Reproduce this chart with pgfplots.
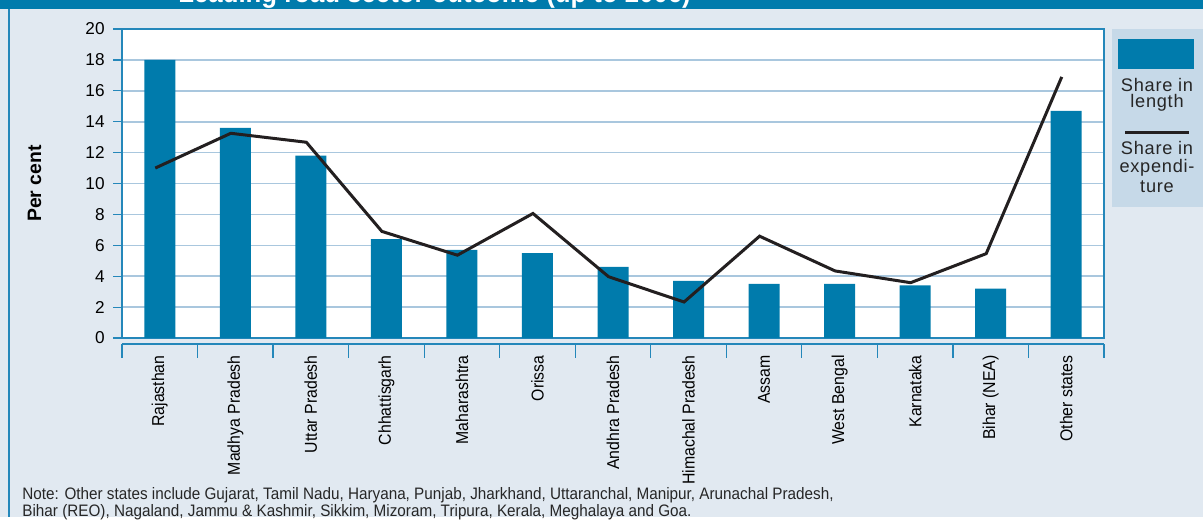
\documentclass[border=0pt]{standalone}
\usepackage{fontspec}
\setmainfont{Liberation Sans}
\newfontfamily\condfont[FakeStretch=0.92]{Liberation Sans}
\newfontfamily\legfont[LetterSpace=4]{Liberation Sans}
\usepackage{pgfplots}
\pgfplotsset{compat=1.18}
\definecolor{bg}{HTML}{E1E9F1}
\definecolor{barblue}{HTML}{007BAC}
\definecolor{axisblue}{HTML}{2487BA}
\definecolor{gridblue}{HTML}{A9C7DE}
\definecolor{legbg}{HTML}{C6D9E8}
\definecolor{lineblack}{HTML}{231F20}
\begin{document}
\begin{tikzpicture}
\begin{scope}[x=0.5pt,y=-0.5pt]
\useasboundingbox (0,0) rectangle (1203,517);
\fill[bg] (0,0) rectangle (1203,517);
\fill[barblue] (0,0) rectangle (1203,9);
\node[anchor=base west, inner sep=0pt, text=white, font=\condfont\bfseries\fontsize{14pt}{16pt}\selectfont] at (178,2.5) {Leading road sector outcome (up to 2006)};
\draw[axisblue, line width=1pt] (9,9) -- (9,517);
\end{scope}
\begin{axis}[
  at={(61pt,-169pt)}, anchor=south west,
  width=491pt, height=154.5pt, scale only axis,
  xmin=-0.5, xmax=12.5, ymin=0, ymax=20,
  xtick={0,...,12},
  xticklabels={Rajasthan,Madhya Pradesh,Uttar Pradesh,Chhattisgarh,Maharashtra,Orissa,Andhra Pradesh,Himachal Pradesh,Assam,West Bengal,Karnataka,Bihar (NEA),Other states},
  ytick={0,2,...,20},
  ytick pos=left,
  axis background/.style={fill=white},
  axis line style={axisblue, line width=0.6pt},
  ymajorgrids, grid style={gridblue, line width=0.8pt},
  tick align=outside, major tick length=4.5pt,
  ytick style={axisblue, line width=0.6pt},
  xtick style={draw=none},
  x tick label style={rotate=90, anchor=east, inner sep=0pt, font=\condfont\fontsize{8.6pt}{10pt}\selectfont},
  y tick label style={anchor=east, inner sep=0pt, font=\fontsize{8.6pt}{10pt}\selectfont},
  /pgf/number format/assume math mode=true,
  xticklabel shift=4pt, yticklabel shift=4pt,
  ylabel={Per cent},
  every axis y label/.style={at={(axis description cs:-0.089,0.5)}, rotate=90, anchor=center, font=\bfseries\fontsize{9.7pt}{11pt}\selectfont},
]
\addplot[ybar, bar width=15.5pt, fill=barblue, draw=none] coordinates {
 (0,18.0) (1,13.6) (2,11.8) (3,6.4) (4,5.7) (5,5.5) (6,4.6) (7,3.7) (8,3.5) (9,3.5) (10,3.4) (11,3.2) (12,14.7)};
\addplot[lineblack, line width=1.5pt, xshift=-2.25pt] coordinates {
 (0,11.0) (1,13.25) (2,12.67) (3,6.9) (4,5.36) (5,8.06) (6,3.97) (7,2.33) (8,6.59) (9,4.34) (10,3.58) (11,5.46) (12,16.9)};
\end{axis}
\begin{scope}[x=0.5pt,y=-0.5pt]
\draw[axisblue, line width=0.6pt] (122,344) -- (1104,344);
\foreach \k in {0,...,13} \draw[axisblue, line width=0.6pt] (122+75.538*\k,344) -- ++(0,14);
% legend
\fill[legbg] (1112,29) rectangle (1203,207);
\fill[barblue] (1118,39) rectangle (1194,69);
\begin{scope}[every node/.style={anchor=base, inner sep=0pt, font=\legfont\fontsize{9.1pt}{10pt}\selectfont, text=black!85}]
\node at (1157,92) {Share in};
\node at (1157,108) {length};
\node at (1157,155) {Share in};
\node at (1157,172.5) {expendi-};
\node at (1157,193) {ture};
\end{scope}
\draw[lineblack, line width=1.5pt] (1125,133) -- (1189,133);
% note
\node[anchor=base west, inner sep=0pt, font=\condfont\fontsize{8.3pt}{10pt}\selectfont, text=black!85] at (22,499) {Note: Other states include Gujarat, Tamil Nadu, Haryana, Punjab, Jharkhand, Uttaranchal, Manipur, Arunachal Pradesh,};
\node[anchor=base west, inner sep=0pt, font=\condfont\fontsize{8.3pt}{10pt}\selectfont, text=black!85] at (22,516) {Bihar (REO), Nagaland, Jammu \& Kashmir, Sikkim, Mizoram, Tripura, Kerala, Meghalaya and Goa.};
\end{scope}
\end{tikzpicture}
\end{document}
